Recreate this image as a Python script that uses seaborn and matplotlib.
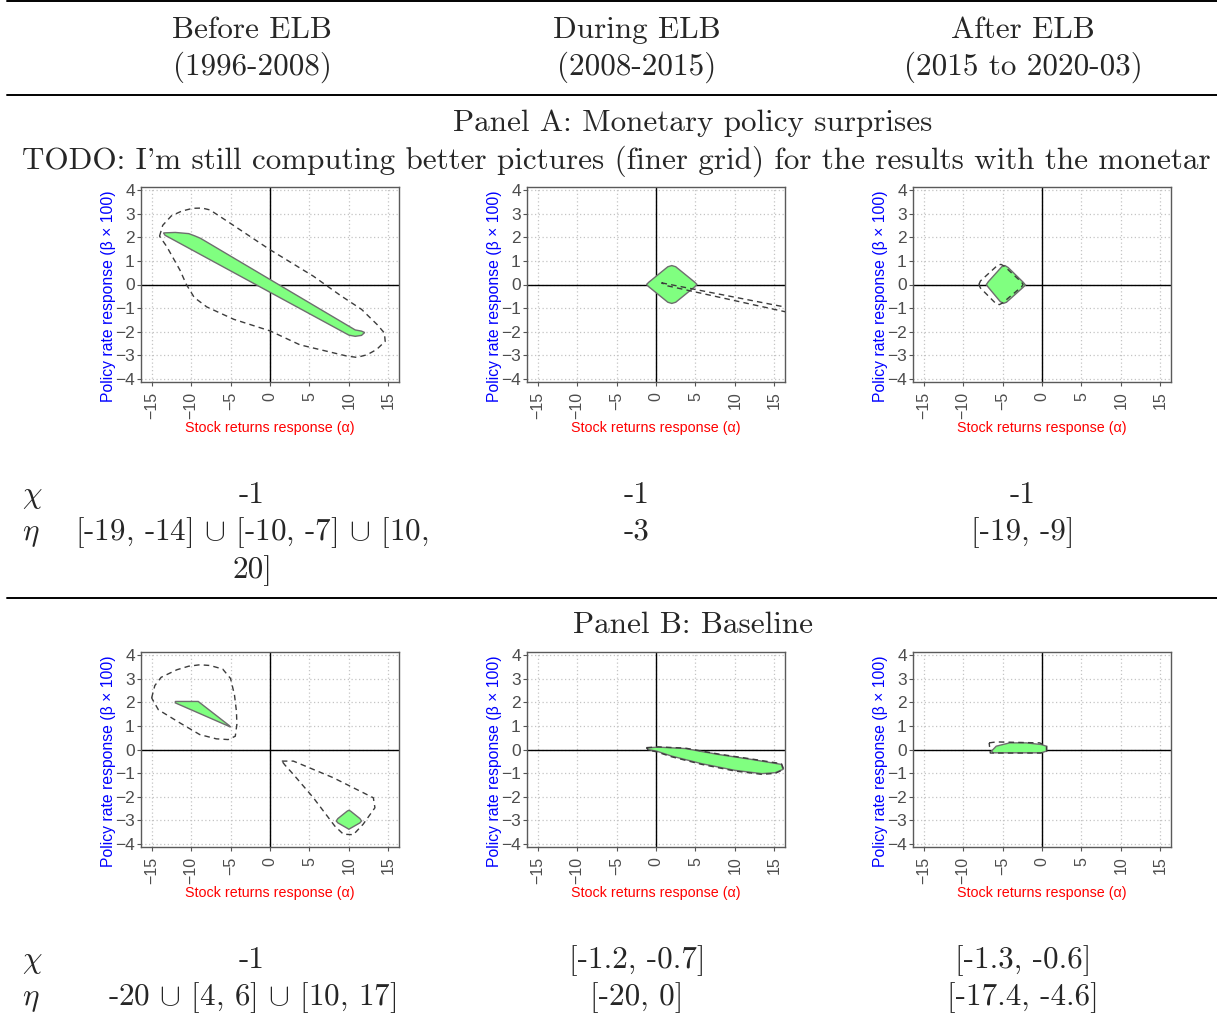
import matplotlib
matplotlib.use("Agg")
import matplotlib.pyplot as plt
from matplotlib.lines import Line2D
import seaborn as sns

# table text
periods = ["Before ELB", "During ELB", "After ELB"]
period_years = ["(1996-2008)", "(2008-2015)", "(2015 to 2020-03)"]
panel_titles = ["Panel A: Monetary policy surprises", "Panel B: Baseline"]
# the source table cuts this note off at the page edge
todo_note = "TODO: I'm still computing better pictures (finer grid) for the results with the monetar"
chi_a = ["-1", "-1", "-1"]
eta_a = [["[-19, -14] $\\cup$ [-10, -7] $\\cup$ [10,", "20]"], ["-3"], ["[-19, -9]"]]
chi_b = ["-1", "[-1.2, -0.7]", "[-1.3, -0.6]"]
eta_b = [["-20 $\\cup$ [4, 6] $\\cup$ [10, 17]"], ["[-20, 0]"], ["[-17.4, -4.6]"]]

# axes ticks
x_ticks = [-15, -10, -5, 0, 5, 10, 15]
y_ticks = [-4, -3, -2, -1, 0, 1, 2, 3, 4]

# Panel A, before ELB
a_before_fill_x = [-13.5, -12.0, -10.3, -9.5, -8.8, 10.8, 11.6, 12.0, 11.6, 10.8, 10.0, -13.3, -13.5]
a_before_fill_y = [2.18, 2.2, 2.15, 2.05, 1.95, -1.92, -1.97, -2.03, -2.15, -2.19, -2.14, 2.08, 2.18]
a_before_dash_x = [-14.0, -13.6, -12.5, -11.2, -9.8, -8.6, -7.6, -5.0, 0.0, 5.5, 9.0, 11.6, 13.6, 14.5,
                   14.6, 13.5, 12.3, 11.0, 9.7, 3.8, 0.0, -4.6, -8.0, -9.6, -10.6, -11.4, -13.1, -14.0]
a_before_dash_y = [2.04, 2.5, 2.9, 3.1, 3.22, 3.23, 3.15, 2.58, 1.47, 0.35, -0.48, -1.05, -1.7, -2.05,
                   -2.4, -2.75, -2.97, -3.08, -3.02, -2.55, -1.96, -1.47, -0.95, -0.55, 0.0, 0.6, 1.61, 2.04]

# Panel A, during ELB
a_during_fill_x = [-1.2, -0.9, 1.5, 2.0, 2.5, 4.9, 5.2, 4.9, 2.5, 2.0, 1.5, -0.9, -1.2]
a_during_fill_y = [0.0, 0.1, 0.75, 0.8, 0.75, 0.1, 0.0, -0.1, -0.75, -0.8, -0.75, -0.1, 0.0]
a_during_dash_x = [0.7, 18.0, 18.0, 1.5, 0.7]
a_during_dash_y = [0.07, -1.06, -1.27, -0.06, 0.07]

# Panel A, after ELB
a_after_fill_x = [-7.05, -6.8, -5.1, -4.7, -4.3, -2.4, -2.1, -2.4, -4.5, -4.9, -5.3, -6.8, -7.05]
a_after_fill_y = [0.0, 0.12, 0.75, 0.8, 0.72, 0.1, -0.02, -0.12, -0.75, -0.8, -0.72, -0.12, 0.0]
a_after_dash_x = [-8.0, -7.8, -5.6, -5.2, -4.8, -2.6, -2.4, -2.6, -5.0, -5.4, -5.8, -7.8, -8.0]
a_after_dash_y = [0.0, 0.15, 0.82, 0.85, 0.78, 0.1, 0.0, -0.1, -0.78, -0.85, -0.82, -0.15, 0.0]

# Panel B, before ELB (two disjoint regions)
b_before_fill1_x = [-12.0, -9.1, -5.2, -5.0, -12.0, -12.0]
b_before_fill1_y = [2.03, 2.03, 1.02, 0.95, 1.97, 2.03]
b_before_fill2_x = [8.4, 8.6, 9.8, 10.0, 10.2, 11.4, 11.6, 11.4, 10.2, 10.0, 9.8, 8.6, 8.4]
b_before_fill2_y = [-3.02, -2.92, -2.6, -2.57, -2.6, -2.92, -3.02, -3.1, -3.33, -3.37, -3.33, -3.1, -3.02]
b_before_dash1_x = [-15.0, -14.6, -13.8, -11.8, -10.3, -8.9, -7.6, -6.0, -5.0, -4.5, -4.25, -4.2,
                    -4.4, -5.3, -6.8, -8.9, -11.4, -14.15, -15.0]
b_before_dash1_y = [2.18, 2.7, 3.05, 3.37, 3.52, 3.58, 3.55, 3.4, 3.0, 2.3, 1.6, 1.05,
                    0.56, 0.42, 0.45, 0.63, 1.12, 1.68, 2.18]
b_before_dash2_x = [1.5, 2.96, 8.0, 13.1, 13.3, 11.8, 10.56, 9.3, 8.2, 5.5, 2.96, 1.9, 1.5]
b_before_dash2_y = [-0.49, -0.49, -1.19, -2.04, -2.46, -3.16, -3.6, -3.58, -3.23, -2.04, -1.05, -0.66, -0.49]

# Panel B, during ELB
b_during_fill_x = [-1.1, 0.3, 3.7, 7.9, 12.1, 15.9, 16.1, 15.1, 13.4, 10.0, 5.8, 2.0, 0.08, -1.0, -1.1]
b_during_fill_y = [0.07, 0.1, 0.04, -0.21, -0.42, -0.63, -0.84, -0.98, -1.02, -0.88, -0.6, -0.28, -0.07, 0.0, 0.07]
b_during_dash_x = [-1.2, 0.3, 3.7, 7.9, 12.1, 15.9, 16.2, 15.1, 13.4, 10.0, 5.8, 2.0, 0.08, -1.0, -1.2]
b_during_dash_y = [0.08, 0.11, 0.06, -0.19, -0.4, -0.6, -0.84, -1.01, -1.05, -0.91, -0.63, -0.31, -0.1, -0.02, 0.08]

# Panel B, after ELB
b_after_fill_x = [-6.4, -5.8, -4.1, -2.0, -0.1, 0.55, 0.55, -0.1, -6.2, -6.4]
b_after_fill_y = [-0.07, 0.14, 0.28, 0.28, 0.21, 0.14, -0.07, -0.14, -0.14, -0.07]
b_after_dash_x = [-6.7, -5.8, -0.3, 0.6, 0.6, -0.2, -6.55, -6.7]
b_after_dash_y = [0.28, 0.32, 0.28, 0.14, -0.08, -0.15, -0.15, 0.28]

panels = [
    [([(a_before_fill_x, a_before_fill_y)], [(a_before_dash_x, a_before_dash_y)]),
     ([(a_during_fill_x, a_during_fill_y)], [(a_during_dash_x, a_during_dash_y)]),
     ([(a_after_fill_x, a_after_fill_y)], [(a_after_dash_x, a_after_dash_y)])],
    [([(b_before_fill1_x, b_before_fill1_y), (b_before_fill2_x, b_before_fill2_y)],
      [(b_before_dash1_x, b_before_dash1_y), (b_before_dash2_x, b_before_dash2_y)]),
     ([(b_during_fill_x, b_during_fill_y)], [(b_during_dash_x, b_during_dash_y)]),
     ([(b_after_fill_x, b_after_fill_y)], [(b_after_dash_x, b_after_dash_y)])],
]

sns.set_theme(style="white")
plt.rcParams["mathtext.fontset"] = "cm"
plt.rcParams["font.family"] = ["cmr10", "DejaVu Serif"]
plt.rcParams["axes.unicode_minus"] = True

W, H = 1217, 1023
fig = plt.figure(figsize=(W / 100, H / 100), dpi=100)
fig.patch.set_facecolor("white")

SERIF = ["cmr10", "DejaVu Serif"]
SANS = ["Liberation Sans", "DejaVu Sans"]
TXT = 22.4


def put(x, y, s, **kw):
    fig.text(x / W, 1 - y / H, s, fontsize=TXT, family=SERIF, va="baseline", **kw)


def rule(y):
    fig.add_artist(Line2D([7 / W, 1], [1 - y / H, 1 - y / H], color="black", lw=1.4))


col_x = [252, 637, 1023]
ax_left = [141, 527, 913]
ax_top = [187, 652]
ax_w, ax_h = 258, 195

# header
rule(1)
for cx, p, yr in zip(col_x, periods, period_years):
    put(cx, 38, p, ha="center")
    put(cx, 75, yr, ha="center")
rule(95)

put(693, 131, panel_titles[0], ha="center")
put(22, 169, todo_note, ha="left")
put(693, 633, panel_titles[1], ha="center")
rule(598)

# chi / eta rows
for (chi, eta, y_chi, y_eta) in [(chi_a, eta_a, 503, 540), (chi_b, eta_b, 968, 1005)]:
    put(22, y_chi, r"$\chi$", ha="left")
    put(22, y_eta, r"$\eta$", ha="left")
    for cx, c, e in zip(col_x, chi, eta):
        put(cx, y_chi, c, ha="center")
        for k, line in enumerate(e):
            put(cx, y_eta + 38 * k, line, ha="center")

# small plots
for r, row in enumerate(panels):
    for c, (fills, dashes) in enumerate(row):
        ax = fig.add_axes([ax_left[c] / W, 1 - (ax_top[r] + ax_h) / H, ax_w / W, ax_h / H])
        ax.set_facecolor("white")
        for fx, fy in fills:
            ax.fill(fx, fy, facecolor="#80ff80", edgecolor="#6e6e6e", lw=1.0, zorder=3)
        for dx, dy in dashes:
            sns.lineplot(x=dx, y=dy, sort=False, estimator=None, ax=ax, color="#3c3c3c",
                         linewidth=1.0, linestyle=(0, (4, 3)), zorder=4)
        ax.axhline(0, color="black", lw=1.0, zorder=2)
        ax.axvline(0, color="black", lw=1.0, zorder=2)
        ax.set_xlim(-16.35, 16.35)
        ax.set_ylim(-4.12, 4.12)
        ax.set_xticks(x_ticks)
        ax.set_yticks(y_ticks)
        ax.grid(True, color="#c4c4c4", linestyle=(0, (1, 2)), linewidth=0.9, zorder=0)
        ax.set_axisbelow(True)
        ax.tick_params(axis="both", which="both", direction="out", length=3, width=0.8,
                       color="#555555", labelcolor="#4d4d4d", pad=2,
                       bottom=True, left=True)
        ax.tick_params(axis="x", labelrotation=90, labelsize=11.5, pad=4)
        ax.tick_params(axis="y", labelsize=12.5, pad=1.5)
        for lab in ax.get_xticklabels() + ax.get_yticklabels():
            lab.set_family(SANS)
        for s in ax.spines.values():
            s.set_color("#5a5a5a")
            s.set_linewidth(1.0)
        ax.set_xlabel("Stock returns response (α)", color="red", fontsize=10.3, family=SANS)
        ax.set_ylabel("Policy rate response (β × 100)", color="blue", fontsize=11.3, family=SANS)
        ax.xaxis.set_label_coords(0.5, -0.2)
        ax.yaxis.set_label_coords(-0.095, 0.44)

fig.savefig("out.png", dpi=100)
